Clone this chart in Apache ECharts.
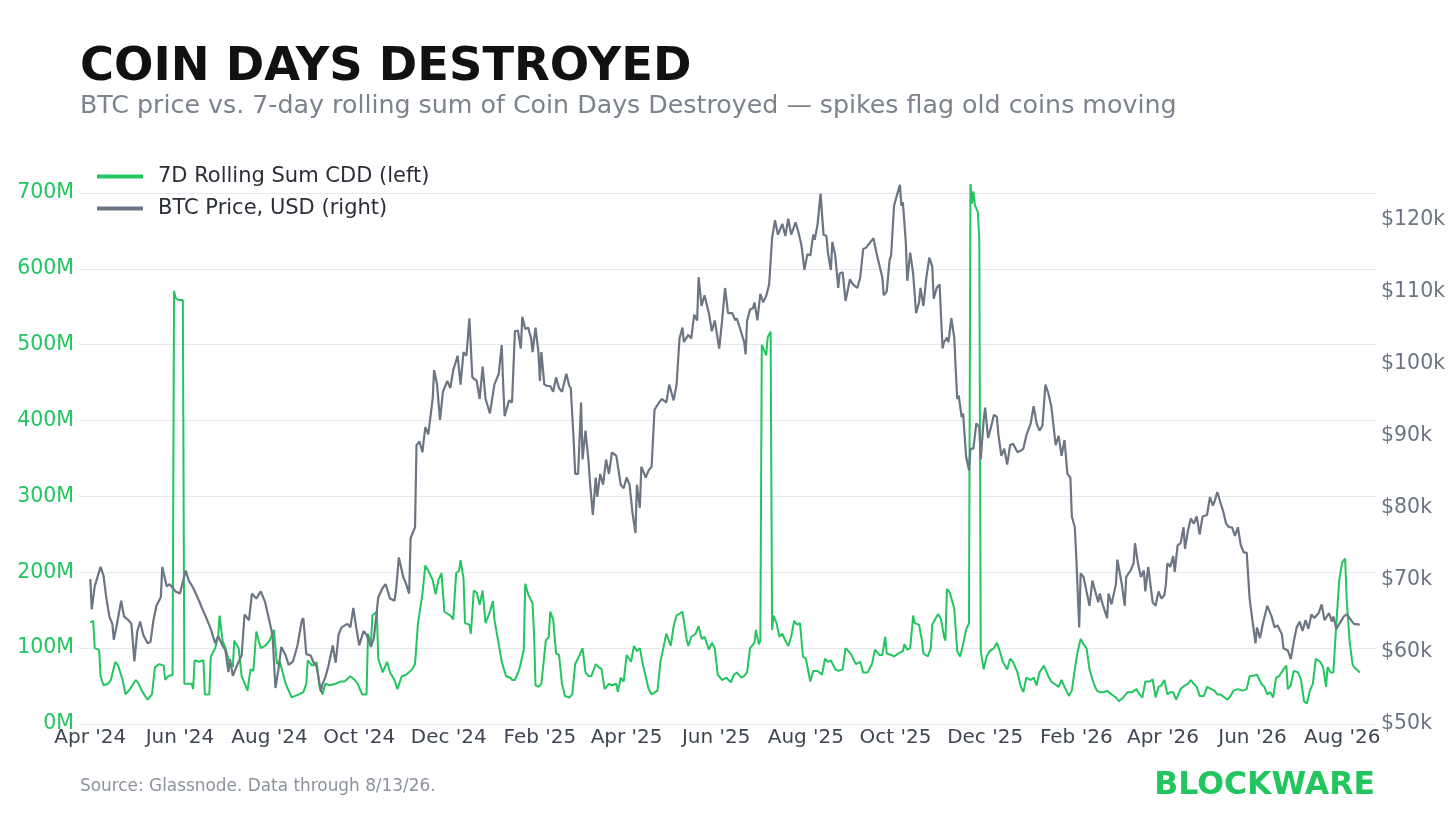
<!DOCTYPE html>
<html>
<head>
<meta charset="utf-8">
<script src="https://cdn.jsdelivr.net/npm/echarts@6/dist/echarts.min.js"></script>
<style>
html,body{margin:0;padding:0;background:#ffffff;}
#chart{width:1456px;height:819px;}
</style>
</head>
<body>
<div id="chart"></div>
<script>
// ---------- data (x = days since 2024-04-01) ----------
const START_DATE_UTC = Date.UTC(2024, 3, 1);
const AXIS_FIRST_DAY = -7;
const AXIS_LAST_DAY = 875;
const monthNames = ['Jan','Feb','Mar','Apr','May','Jun','Jul','Aug','Sep','Oct','Nov','Dec'];
const labelMonths = ['Apr','Jun','Aug','Oct','Dec','Feb'];
const leftTicksM = [0, 100, 200, 300, 400, 500, 600, 700];
const rightTicksK = [50, 60, 70, 80, 90, 100, 110, 120];

// 7D rolling sum of Coin Days Destroyed, millions
const cddM = [
[0,134],[2,136],[3,100],[6,98],[7,63],[9,51],[12,53],[14,58],[17,82],[19,77],[22,58],[24,39],[27,46],[31,58],[33,53],[35,44],[39,32],[42,39],[44,75],[47,79],[50,77],[51,58],[53,63],[56,65],
[57,571],[58,562],[60,559],[63,559],[64,53],[66,53],[69,53],[70,46],[71,84],[74,82],[77,84],[78,39],[81,39],[82,89],[85,100],[87,115],[88,143],[90,110],[92,100],[94,86],[97,75],[98,110],
[101,100],[103,63],[107,44],[109,72],[111,70],[113,122],[116,100],[119,103],[122,110],[125,124],[127,79],[129,82],[133,53],[137,35],[142,39],
[145,42],[147,53],[148,84],[151,77],[153,79],[154,82],[156,49],[158,39],[160,53],[163,51],[167,53],[170,56],[173,56],[177,63],[180,58],[182,53],[185,39],[188,39],[189,119],[191,105],[192,143],[195,148],[196,86],[199,68],
[202,82],[204,68],[207,58],[209,46],[212,63],[215,65],[219,72],[221,79],[223,133],[226,171],[228,209],[230,202],[233,190],[235,171],[237,190],[239,199],[241,148],[245,143],[247,138],[249,199],
[251,202],[252,216],[254,192],[255,133],[258,131],[259,119],[261,176],[263,173],[265,157],[267,176],[269,133],[272,148],[274,162],[275,138],[278,105],[280,82],[283,63],[286,61],[287,58],
[289,58],[292,72],[295,98],[296,185],[298,171],[301,159],[302,119],[303,51],[305,49],[307,53],[310,110],[312,115],[313,148],[315,138],[317,93],[319,91],[321,53],[323,37],[326,35],[328,39],
[330,79],[333,91],[335,100],[337,68],[339,63],[341,63],[344,79],[346,75],[348,72],[350,46],[353,53],[355,51],[358,53],[359,42],[361,61],[363,56],[365,91],[368,82],[370,103],[372,96],[374,100],[376,79],
[380,46],[382,39],[386,44],[388,82],[390,100],[392,119],[395,103],[397,129],[399,143],[403,148],[404,150],[406,110],[407,103],[409,115],[412,119],[414,129],[416,112],[418,115],[421,98],[423,107],[425,100],[427,65],
[430,58],[433,61],[436,55],[438,65],[440,68],[443,61],[445,63],[447,68],[449,100],[452,107],[453,124],[455,105],[456,110],
[457,500],[458,500],[460,486],[461,510],[463,517],[464,124],[465,143],[467,133],[469,115],[471,119],[473,110],[475,103],[477,115],[479,136],[481,131],[483,133],[485,89],[487,86],[490,56],[492,70],[495,70],[498,65],
[500,86],[502,82],[504,84],[507,72],[509,70],[512,72],[514,100],[516,96],[518,91],[521,79],[524,82],[526,68],[529,68],[532,79],[534,98],[537,91],[539,91],[541,115],[542,93],[545,91],[547,89],
[550,93],[553,96],[554,105],[556,98],[558,100],[560,143],[561,133],[564,131],[566,110],[567,93],[570,89],[572,100],[573,131],[575,138],[577,145],[579,138],[581,115],[582,110],
[583,178],[585,173],[588,152],[589,154],[590,96],[592,89],[594,105],[596,124],[598,133],[599,712],[600,686],[601,702],[602,684],[604,675],[605,640],[606,96],[608,72],[610,89],[612,96],[615,100],[617,107],[619,96],
[621,82],[624,72],[626,86],[628,82],[631,68],[633,51],[635,42],[637,61],[640,58],[642,61],[644,51],[646,68],[649,77],[652,63],[654,56],[656,53],[659,49],[661,58],[663,49],[666,37],[668,44],[670,72],[672,96],[674,112],
[676,105],[678,100],[680,72],[683,53],[685,44],[687,42],[690,42],[692,44],[695,39],[698,35],[700,30],[703,35],[706,42],[709,42],[712,46],[714,39],[716,35],[718,56],[721,56],[723,59],[725,35],[727,49],
[729,51],[731,58],[733,39],[735,42],[737,42],[739,32],[742,46],[745,51],[747,53],[749,58],[751,53],[753,49],[755,37],[758,37],[760,49],[763,46],[765,44],[767,39],[769,39],[772,35],[774,32],[776,37],[778,44],
[781,46],[784,44],[787,46],[789,63],[792,64],[794,65],[797,53],[799,49],[801,39],[803,42],[805,35],[807,61],[809,63],[812,72],[814,77],[815,46],[817,51],[819,70],[822,68],[824,58],[826,30],[828,27],
[830,44],[832,53],[834,86],[837,82],[839,75],[841,49],[842,75],[844,68],[846,68],[848,133],[850,190],[852,213],[854,218],[855,166],[857,110],[859,79],[860,75],[864,68]
];

// BTC price, thousands of USD
const priceK = [
[0,70.1],[1,65.9],[3,69.1],[7,71.8],[9,70.6],[11,67.4],[13,64.9],[15,63.9],[16,61.7],[18,63.7],[21,67.1],[23,64.9],[26,64.4],[28,63.9],[30,58.7],[32,62.9],[34,64.2],[36,62.4],[39,61.2],[41,61.4],[43,64.4],[45,66.4],[48,67.6],[49,71.8],
[52,69.1],[54,69.4],[58,68.4],[61,68.1],[65,71.3],[67,69.9],[70,68.9],[74,67.1],[76,66.1],[79,64.7],[82,63.2],[85,61.2],[87,62.2],[90,60.9],[92,60.2],[94,57.2],[95,59.0],[97,56.7],
[100,58.2],[103,59.5],[105,65.2],[108,64.4],[110,68.1],[113,67.4],[116,68.4],[119,66.9],[122,64.2],[124,62.4],[126,55.0],[128,57.5],[130,60.7],[133,59.5],[135,58.2],[138,58.7],[141,60.9],[144,64.4],
[145,64.7],[147,59.7],[150,59.5],[152,58.5],[154,58.0],[157,54.5],[158,55.5],[160,56.5],[162,58.0],[165,60.9],[167,58.5],[169,62.4],[171,63.4],[175,63.9],[177,63.4],[179,66.1],[181,63.4],[183,60.9],[186,62.9],[188,62.4],
[191,60.7],[193,61.9],[196,67.6],[199,68.9],[201,69.4],[204,67.4],[207,67.1],[208,68.4],[210,73.1],[213,70.4],[215,69.4],[217,68.1],[218,75.8],[221,77.3],[222,88.7],[224,89.2],[226,87.7],[228,91.2],[230,90.2],
[233,95.1],[234,99.1],[236,97.1],[238,92.2],[240,96.1],[243,97.6],[245,96.6],[247,99.1],[250,101.1],[252,97.1],[254,101.6],[256,101.1],[258,106.3],[260,98.1],[263,97.6],[265,95.1],[267,99.6],[269,95.1],
[272,93.1],[275,97.1],[278,98.6],[280,102.6],[281,97.1],[282,92.7],[285,94.9],[287,94.6],[289,104.5],
[291,104.6],[293,102.1],[294,106.5],[296,104.8],[298,105.0],[300,103.5],[301,101.6],[303,105.0],[305,101.6],[306,97.6],[307,101.6],[309,97.1],[311,96.9],[313,96.9],[315,96.1],[317,98.1],[319,96.6],[321,96.1],
[324,98.6],[326,96.9],[327,96.6],[329,89.2],[330,84.7],[332,84.7],[334,94.6],[335,86.7],[337,90.7],[339,86.7],[340,83.7],[342,79.0],[344,84.2],[345,81.5],[347,84.7],[349,83.2],[351,86.7],[353,84.7],[355,87.7],
[358,87.2],[361,83.2],[363,82.7],[365,84.2],[367,83.2],[369,79.3],[371,76.5],[372,83.2],[374,80.0],[375,85.7],[378,84.2],[380,85.2],[382,85.7],[384,93.6],[387,94.6],[389,95.1],[392,94.6],[394,97.1],[397,94.9],
[399,97.1],[401,103.5],[403,105.0],[404,103.0],[407,104.0],[409,103.5],[411,106.8],[413,106.0],[414,112.0],[416,108.0],[418,109.5],[421,107.0],[423,104.5],[425,106.0],[428,102.1],[430,106.0],[432,110.5],[434,107.0],
[437,107.0],[439,106.0],[440,106.3],[442,105.0],[445,103.0],[446,101.3],[447,106.0],[449,107.5],[451,107.7],[452,108.5],[454,106.0],[456,109.7],[458,108.5],[460,109.4],[462,111.0],[464,117.4],[466,119.9],[468,117.9],
[471,119.4],[473,117.7],[475,120.1],[477,117.9],[480,119.6],[482,118.2],[484,116.4],[486,113.0],[488,115.2],[490,115.0],[492,117.9],[493,117.2],[495,119.4],[497,123.6],[499,117.9],[501,117.7],[502,115.4],[504,113.0],
[505,116.9],[507,115.0],[509,110.5],[510,112.5],[512,112.7],[514,108.7],[515,108.7],[517,111.7],[519,111.0],[522,110.5],[524,112.0],[526,115.9],[528,116.1],[531,116.9],[533,117.4],[535,115.4],[537,113.7],[539,112.0],
[540,109.5],[542,110.0],[544,114.4],[545,115.0],[547,121.9],[549,123.4],[551,124.8],[552,121.9],[553,122.4],[555,116.9],[556,111.5],[558,115.4],[560,112.5],[562,107.0],[564,108.5],[565,110.5],[567,108.0],[569,112.0],
[571,114.7],[573,113.5],[574,109.0],[576,110.5],[578,111.0],[580,102.1],[581,103.0],
[583,103.6],[584,103.0],[586,106.3],[588,103.6],[589,99.1],[590,95.1],[591,95.6],[593,92.6],[594,93.1],[596,87.2],[598,85.2],[599,88.2],[601,88.2],[603,91.7],[605,91.2],[606,86.7],[608,92.2],[609,93.9],[611,89.7],
[613,91.2],[615,92.9],[617,92.6],[618,90.2],[620,87.2],[622,88.2],[624,86.0],[626,88.7],[628,88.9],[631,87.7],[633,87.9],[635,88.2],[637,90.0],[640,91.7],[642,94.1],[644,91.7],[646,90.7],[648,91.4],[650,97.1],
[652,95.9],[654,94.1],[657,88.7],[659,90.0],[661,87.2],[663,89.4],[665,84.7],[667,84.2],[668,78.8],[670,77.3],[671,73.3],[673,63.4],[674,70.9],[676,70.4],[678,68.4],[680,66.4],[682,69.9],[683,69.1],[686,66.9],
[687,68.1],[689,66.6],[692,64.7],[693,68.1],[695,66.6],[698,69.4],[699,72.8],[702,69.4],[704,66.4],[705,70.4],[708,71.3],[710,72.3],[711,75.1],[713,72.3],[715,70.4],[717,71.3],[718,68.4],[720,71.8],[721,71.6],
[723,66.9],[725,66.4],[727,68.4],
[729,67.4],[731,67.9],[732,69.4],[733,72.3],[735,71.8],[737,73.3],[738,71.1],[740,74.8],[742,75.1],[744,77.3],[745,74.3],[747,76.8],[749,78.5],[751,77.8],[753,78.8],[755,76.3],[757,78.8],[760,79.0],[762,81.5],
[764,80.3],[765,80.8],[767,82.2],[769,80.8],[771,79.5],[773,77.8],[775,77.3],[777,77.3],[779,76.1],[781,77.3],[783,74.8],[785,73.8],[787,73.8],[789,67.4],[791,64.2],[793,61.2],[794,63.4],[796,61.9],[798,63.9],
[801,66.4],[804,64.9],[806,63.4],[808,63.7],[811,62.4],[812,60.5],[815,60.2],[817,59.0],[819,61.4],[821,63.4],[823,64.2],[825,62.9],[827,64.4],[829,63.2],[831,65.2],[833,64.7],[836,65.4],[838,66.6],[840,64.4],
[843,65.4],[845,64.2],[846,64.9],[848,63.2],[851,64.2],[853,64.9],[855,65.2],[857,64.7],[860,63.9],[864,63.8]
];

// ---------- helpers ----------
function dayToDate(d) {
  return new Date(START_DATE_UTC + d * 86400000).toISOString().slice(0, 10);
}
const categories = [];
for (let d = AXIS_FIRST_DAY; d <= AXIS_LAST_DAY; d++) categories.push(dayToDate(d));
function isLabelDate(v) {
  const m = parseInt(v.slice(5, 7), 10) - 1;
  return v.slice(8, 10) === '01' && labelMonths.indexOf(monthNames[m]) >= 0;
}
function fmtDate(v) {
  const m = parseInt(v.slice(5, 7), 10) - 1;
  return monthNames[m] + " '" + v.slice(2, 4);
}

const GREEN = '#22c55e';
const GRAY = '#6b7584';
const FONT = 'DejaVu Sans';

const chart = echarts.init(document.getElementById('chart'), null, {renderer: 'canvas'});
chart.setOption({
  animation: false,
  backgroundColor: '#ffffff',
  textStyle: {fontFamily: FONT},
  title: [
    {text: 'COIN DAYS DESTROYED', left: 75, top: 40,
     textStyle: {fontFamily: FONT, fontSize: 46.4, fontWeight: 'bold', color: '#111111'}},
    {text: 'BTC price vs. 7-day rolling sum of Coin Days Destroyed \u2014 spikes flag old coins moving', left: 75, top: 89,
     textStyle: {fontFamily: FONT, fontSize: 25.3, fontWeight: 'normal', color: '#7b838f'}},
    {text: 'Source: Glassnode. Data through 8/13/26.', left: 75, top: 773,
     textStyle: {fontFamily: FONT, fontSize: 16.9, fontWeight: 'normal', color: '#8b929c'}},
    {text: 'BLOCKWARE', right: 76, top: 765,
     textStyle: {fontFamily: FONT, fontSize: 31.5, fontWeight: 'bold', color: GREEN}}
  ],
  legend: {
    orient: 'vertical', left: 92, top: 161,
    icon: 'rect', itemWidth: 46, itemHeight: 4, itemGap: 11,
    textStyle: {fontFamily: FONT, fontSize: 21, lineHeight: 21, color: '#2a2f37', padding: [0, 0, 0, 10]},
    data: ['7D Rolling Sum CDD (left)', 'BTC Price, USD (right)']
  },
  grid: {left: 80, right: 80, top: 193, bottom: 95, containLabel: false},
  xAxis: {
    type: 'category', data: categories, boundaryGap: false,
    axisLine: {show: false}, axisTick: {show: false}, splitLine: {show: false},
    axisLabel: {interval: (i, v) => isLabelDate(v), formatter: fmtDate,
      color: '#3f4652', fontSize: 20, margin: 4, fontFamily: FONT}
  },
  yAxis: [
    {type: 'value', position: 'left', min: leftTicksM[0], max: leftTicksM[leftTicksM.length - 1], interval: 100,
     axisLine: {show: false}, axisTick: {show: false},
     splitLine: {show: true, lineStyle: {color: '#e6e8ec', width: 1}},
     axisLabel: {formatter: v => v + 'M', color: GREEN, fontSize: 20.5, margin: 6, padding: [4, 0, 0, 0], fontFamily: FONT}},
    {type: 'value', position: 'right', min: rightTicksK[0], max: 123.68, interval: 10,
     axisLine: {show: false}, axisTick: {show: false}, splitLine: {show: false},
     axisLabel: {formatter: v => '$' + v + 'k', color: GRAY, fontSize: 20.5, margin: 5, padding: [2, 0, 0, 0], showMaxLabel: false, fontFamily: FONT}}
  ],
  series: [
    {name: '7D Rolling Sum CDD (left)', type: 'line', yAxisIndex: 0, showSymbol: false, clip: false, z: 2,
     color: GREEN, lineStyle: {width: 2, color: GREEN},
     data: cddM.map(p => [dayToDate(p[0]), p[1]])},
    {name: 'BTC Price, USD (right)', type: 'line', yAxisIndex: 1, showSymbol: false, clip: false, z: 3,
     color: GRAY, lineStyle: {width: 2.2, color: GRAY},
     data: priceK.map(p => [dayToDate(p[0]), p[1]])}
  ]
});
</script>
</body>
</html>
